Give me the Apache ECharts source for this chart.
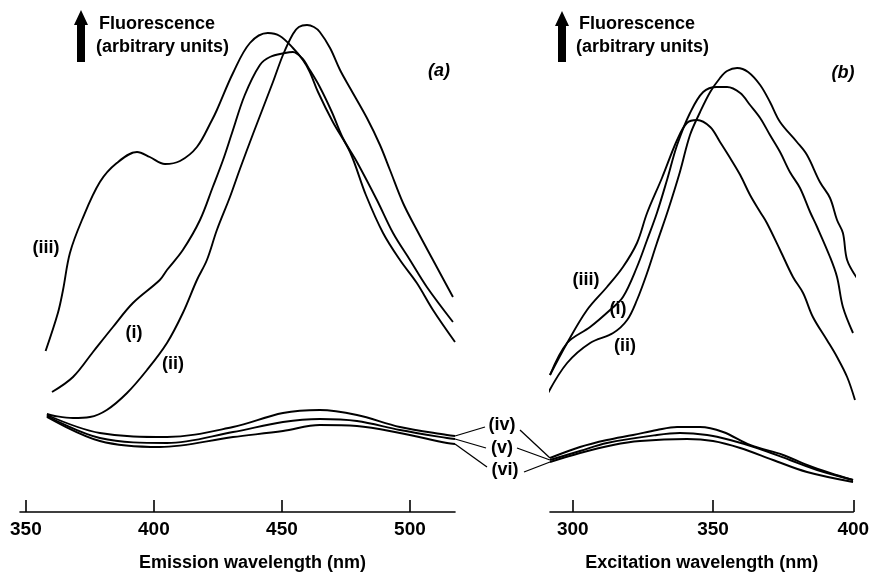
<!DOCTYPE html>
<html>
<head>
<meta charset="utf-8">
<title>Fluorescence spectra</title>
<script src="https://cdn.jsdelivr.net/npm/echarts@6/dist/echarts.min.js"></script>
<style>
  html, body { margin: 0; padding: 0; background: #fff; }
  #chart { width: 870px; height: 572px; }
</style>
</head>
<body>
<div id="chart"></div>
<script>
// (a) emission spectra: [wavelength nm, fluorescence (arbitrary units)]
const emI = [[360.2, 24.0], [368.4, 27.0], [376.2, 32.0], [384.0, 37.0], [391.8, 41.8], [402.3, 46.4], [405.1, 48.4], [411.3, 52.4], [418.0, 58.4], [423.0, 65.0], [427.0, 70.4], [430.5, 75.8], [435.5, 83.4], [441.4, 89.4], [445.3, 91.0], [451.2, 91.8], [454.3, 92.0], [457.8, 90.8], [460.9, 88.4], [464.8, 85.0], [469.5, 80.0], [473.8, 74.8], [479.3, 70.0], [487.1, 62.4], [493.4, 55.8], [500.0, 50.4], [506.6, 45.0], [516.8, 38.0]]
const emII = [[358.2, 19.6], [361.3, 19.2], [368.4, 18.8], [375.0, 19.0], [381.6, 20.4], [389.5, 23.8], [397.3, 28.4], [405.1, 33.8], [411.3, 39.8], [416.8, 46.4], [420.7, 50.4], [424.6, 56.4], [429.7, 63.0], [433.6, 68.6], [438.7, 75.6], [446.5, 86.0], [450.4, 91.4], [454.3, 95.6], [456.6, 97.0], [459.8, 97.4], [462.5, 97.0], [464.8, 96.0], [468.8, 92.8], [472.7, 88.4], [476.6, 84.8], [483.2, 78.8], [488.3, 73.4], [492.2, 68.4], [497.3, 61.8], [502.7, 56.4], [509.0, 50.4], [516.8, 43.0]]
const emIII = [[357.7, 32.2], [362.5, 39.8], [364.5, 44.4], [367.2, 51.8], [371.9, 58.4], [378.9, 66.0], [385.5, 69.8], [393.4, 72.0], [398.4, 71.0], [404.3, 69.6], [410.2, 70.2], [416.8, 73.0], [422.7, 78.4], [424.6, 80.4], [430.9, 87.8], [437.5, 93.8], [444.5, 95.8], [449.2, 95.2], [454.3, 92.8], [458.2, 90.4], [460.9, 88.0], [464.1, 84.0], [469.9, 78.0], [476.6, 72.0], [482.8, 63.4], [489.5, 55.8], [496.1, 50.4], [502.7, 45.8], [509.0, 40.4], [517.6, 34.0]]
const emIV = [[358.2, 19.4], [378.9, 15.8], [405.1, 15.0], [430.9, 17.0], [450.4, 19.8], [464.8, 20.4], [479.3, 19.4], [496.1, 17.0], [514.5, 15.4], [517.6, 15.2]]
const emV = [[358.2, 19.2], [378.9, 14.8], [405.1, 13.8], [430.9, 16.0], [450.4, 18.0], [464.8, 18.6], [479.3, 18.2], [496.1, 16.4], [514.5, 14.8], [517.6, 14.6]]
const emVI = [[358.2, 19.0], [378.9, 14.2], [402.3, 13.0], [430.9, 15.0], [450.4, 16.2], [464.8, 17.4], [479.3, 17.2], [496.1, 15.8], [514.5, 13.8], [517.6, 13.6]]

// (b) excitation spectra
const exI = [[291.9, 27.4], [298.0, 33.8], [306.2, 37.0], [313.3, 40.4], [317.9, 43.0], [322.9, 49.0], [326.5, 54.4], [330.0, 59.8], [333.6, 66.4], [337.2, 73.4], [341.8, 79.8], [346.5, 84.0], [351.4, 85.0], [355.0, 85.0], [359.7, 83.8], [363.2, 81.4], [366.8, 78.8], [370.3, 75.4], [373.9, 72.0], [377.4, 68.0], [381.0, 64.8], [384.6, 60.0], [387.1, 57.0], [391.7, 51.0], [394.2, 47.0], [396.3, 41.0], [399.9, 35.8]]
const exII = [[291.2, 23.8], [298.0, 29.8], [306.2, 33.8], [314.4, 35.8], [319.4, 38.4], [322.9, 42.4], [326.5, 47.8], [330.0, 53.8], [334.0, 60.4], [338.2, 68.0], [341.8, 75.4], [345.4, 80.0], [349.0, 84.0], [352.5, 86.8], [355.0, 88.2], [358.6, 88.8], [362.5, 88.0], [366.8, 85.4], [370.3, 82.0], [373.9, 78.0], [379.9, 74.0], [383.5, 71.4], [388.1, 66.0], [391.7, 62.8], [394.2, 58.4], [396.3, 55.8], [397.8, 50.4], [401.3, 46.8]]
const exIII = [[291.9, 27.4], [298.0, 33.8], [305.1, 40.4], [312.2, 45.0], [317.9, 49.0], [322.9, 53.8], [326.5, 59.8], [331.8, 66.8], [337.2, 74.4], [340.7, 77.8], [344.3, 78.4], [349.0, 77.0], [352.5, 74.0], [356.1, 70.8], [359.7, 67.4], [363.2, 63.4], [366.8, 60.0], [369.2, 57.8], [373.9, 52.4], [378.5, 47.0], [382.1, 43.8], [385.6, 39.0], [390.6, 34.4], [394.2, 31.0], [397.8, 27.0], [400.6, 22.4]]
const exIV = [[291.9, 10.8], [302.6, 13.0], [312.2, 14.4], [321.5, 15.4], [330.0, 16.4], [337.2, 17.0], [345.4, 17.0], [353.6, 16.0], [363.2, 13.4], [375.0, 11.4], [383.5, 9.4], [391.7, 7.8], [399.9, 6.4]]
const exV = [[291.9, 10.4], [302.6, 12.2], [312.2, 13.8], [330.0, 15.4], [338.2, 15.8], [347.9, 15.4], [356.1, 14.4], [365.7, 12.8], [377.4, 10.4], [387.1, 8.4], [399.9, 6.4]]
const exVI = [[291.9, 10.0], [302.6, 11.8], [314.4, 13.4], [324.0, 14.2], [340.7, 14.6], [350.0, 14.2], [359.7, 12.8], [371.4, 10.4], [383.5, 8.0], [399.9, 6.0]]

const emTicks = [350, 400, 450, 500]
const exTicks = [300, 350, 400]

const FONT = '"Liberation Sans", Arial, Helvetica, sans-serif'
const INK = '#000'

const chart = echarts.init(document.getElementById('chart'), null, { renderer: 'canvas' })

function curve(data, grid) {
  return {
    type: 'line',
    data: data,
    xAxisIndex: grid,
    yAxisIndex: grid,
    smooth: 0.35,
    showSymbol: false,
    symbol: 'none',
    clip: false,
    silent: true,
    lineStyle: { color: INK, width: 1.9 }
  }
}

function xAxisFor(grid, min, max, ticks, name) {
  return {
    gridIndex: grid,
    type: 'value',
    min: min,
    max: max,
    name: name,
    nameLocation: 'middle',
    nameGap: 42,
    nameTextStyle: {
      color: INK, fontSize: 18, fontWeight: 'bold', fontFamily: FONT,
      padding: grid === 0 ? [0, 0, 0, 30] : 0
    },
    axisLine: { show: true, onZero: false, lineStyle: { color: INK, width: 1.6 } },
    axisTick: { show: true, inside: true, length: 12, customValues: ticks, lineStyle: { color: INK, width: 1.6 } },
    axisLabel: { customValues: ticks, color: INK, fontSize: 19, fontWeight: 'bold', fontFamily: FONT, margin: 8 },
    splitLine: { show: false }
  }
}

function yAxisFor(grid) {
  return { gridIndex: grid, type: 'value', min: 0, max: 100, show: false }
}

chart.setOption({
  animation: false,
  backgroundColor: '#fff',
  grid: [
    { left: 20, width: 435, top: 12, height: 500, outerBoundsMode: 'none' },
    { left: 550, width: 303.3, top: 12, height: 500, outerBoundsMode: 'none' }
  ],
  xAxis: [
    xAxisFor(0, 347.7, 517.6, emTicks, 'Emission wavelength (nm)'),
    xAxisFor(1, 291.9, 400, exTicks, 'Excitation wavelength (nm)')
  ],
  yAxis: [yAxisFor(0), yAxisFor(1)],
  series: [
    curve(emI, 0), curve(emII, 0), curve(emIII, 0),
    curve(emIV, 0), curve(emV, 0), curve(emVI, 0),
    curve(exI, 1), curve(exII, 1), curve(exIII, 1),
    curve(exIV, 1), curve(exV, 1), curve(exVI, 1)
  ]
})

// annotations
function label(text, x, y, italic) {
  return {
    type: 'text', x: x, y: y, silent: true,
    style: {
      text: text, fill: INK,
      font: (italic ? 'italic ' : '') + 'bold 18px ' + FONT,
      align: 'center', verticalAlign: 'middle',
      textAlign: 'center', textVerticalAlign: 'middle'
    }
  }
}

function leftText(text, x, y) {
  return {
    type: 'text', x: x, y: y, silent: true,
    style: {
      text: text, fill: INK, font: 'bold 18px ' + FONT,
      align: 'left', verticalAlign: 'middle',
      textAlign: 'left', textVerticalAlign: 'middle'
    }
  }
}

function upArrow(cx, top, bottom) {
  return {
    type: 'polygon', silent: true,
    shape: { points: [[cx, top], [cx + 7, top + 15], [cx + 4, top + 15], [cx + 4, bottom], [cx - 4, bottom], [cx - 4, top + 15], [cx - 7, top + 15]] },
    style: { fill: INK }
  }
}

function leader(p, q) {
  return {
    type: 'polyline', silent: true,
    shape: { points: [p, q] },
    style: { stroke: INK, lineWidth: 1.3, fill: null }
  }
}

const lastOf = arr => arr[arr.length - 1]
const aEnd = arr => chart.convertToPixel({ gridIndex: 0 }, lastOf(arr))
const bStart = arr => chart.convertToPixel({ gridIndex: 1 }, arr[0])

const graphics = [
  upArrow(81, 10, 62),
  leftText('Fluorescence', 99, 24),
  leftText('(arbitrary units)', 96, 47),
  upArrow(562, 11, 62),
  leftText('Fluorescence', 579, 24),
  leftText('(arbitrary units)', 576, 47),
  label('(a)', 439, 71, true),
  label('(b)', 843, 73, true),
  label('(iii)', 46, 248),
  label('(i)', 134, 333),
  label('(ii)', 173, 364),
  label('(iii)', 586, 280),
  label('(i)', 618, 309),
  label('(ii)', 625, 346),
  label('(iv)', 502, 425),
  label('(v)', 502, 448),
  label('(vi)', 505, 470),
  leader(aEnd(emIV), [485, 427]),
  leader(aEnd(emV), [486, 448]),
  leader(aEnd(emVI), [487, 467]),
  leader([520, 430], bStart(exIV)),
  leader([517, 448], bStart(exV)),
  leader([524, 472], bStart(exVI))
]

chart.setOption({ graphic: graphics })
</script>
</body>
</html>
